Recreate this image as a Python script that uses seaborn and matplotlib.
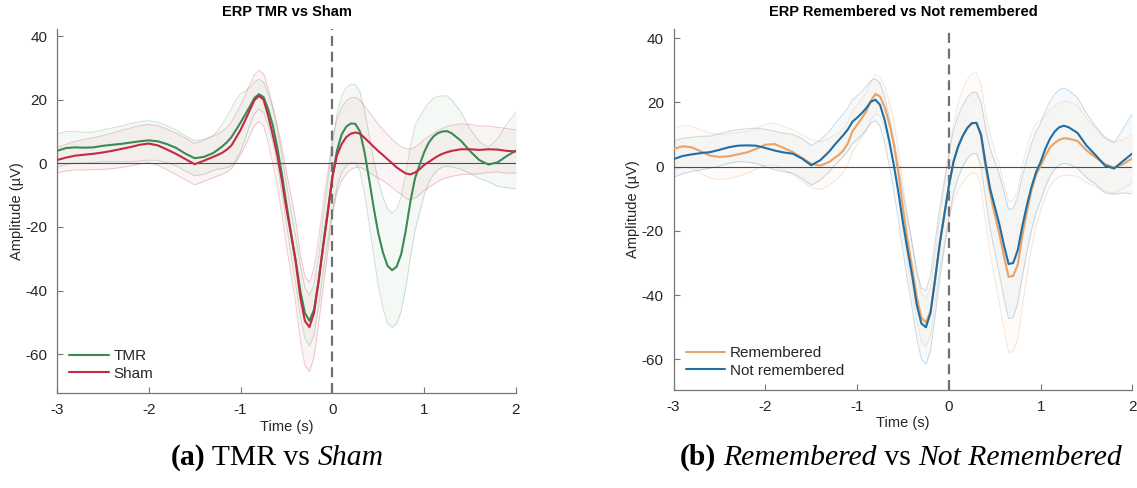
import numpy as np
import pandas as pd
import matplotlib
matplotlib.use("Agg")
import matplotlib.pyplot as plt
import seaborn as sns

# ---------------- data ----------------
time = [-3.0, -2.9, -2.8, -2.7, -2.6, -2.5, -2.4, -2.3, -2.2, -2.1, -2.0, -1.9, -1.8, -1.7, -1.6, -1.5, -1.4, -1.3,
        -1.25, -1.2, -1.15, -1.1, -1.05, -1.0, -0.95, -0.9, -0.85, -0.8, -0.75, -0.7, -0.65, -0.6, -0.55,
        -0.5, -0.45, -0.4, -0.35, -0.3, -0.25, -0.2, -0.15, -0.1, -0.05, 0.0,
        0.05, 0.1, 0.15, 0.2, 0.25, 0.3, 0.35, 0.4, 0.45, 0.5, 0.55, 0.6,
        0.65, 0.7, 0.75, 0.8, 0.85, 0.9, 0.95, 1.0, 1.05, 1.1, 1.15, 1.2, 1.25,
        1.3, 1.4, 1.5, 1.6, 1.7, 1.8, 1.9, 2.0]

tmr_mean = [3.9, 4.8, 5.0, 4.9, 5.0, 5.5, 5.8, 6.1, 6.5, 6.9, 7.2, 6.9, 6.0, 4.8, 3.0, 1.6, 2.0, 3.2,
            4.2, 5.3, 6.6, 8.2, 10.5, 12.8, 15.3, 17.8, 20.5, 21.7, 20.8, 17.0, 12.0, 5.0, -3.5,
            -13, -22, -30.5, -40, -47, -49.5, -46, -37, -25.5, -15, -4.5,
            4.0, 9.0, 11.5, 12.5, 12.4, 10.0, 3.5, -5.0, -14, -22, -28, -32.2,
            -33.6, -32.5, -28.5, -21, -12, -4.7, -0.5, 3.5, 6.5, 8.4, 9.5, 10.0, 10.1,
            9.4, 7.1, 3.8, 1.0, -0.4, 0.3, 2.3, 4.0]
tmr_err = [5.2, 5.2, 5.0, 4.8, 4.8, 5.0, 5.3, 5.6, 6.0, 6.2, 6.2, 6.0, 5.8, 5.6, 5.5, 5.5, 5.5, 5.5,
           6.0, 7.0, 8.0, 9.0, 9.5, 9.0, 7.5, 6.0, 5.0, 4.7, 4.8, 5.0, 5.3, 5.6, 6.0,
           6.5, 7.0, 7.5, 8.0, 8.0, 8.0, 8.0, 8.0, 8.5, 9.5, 10.5,
           11.5, 12.0, 12.3, 12.3, 12.3, 12.5, 13.0, 14.0, 15.0, 16.5, 17.5, 18.0,
           18.0, 18.0, 18.0, 18.0, 17.5, 16.5, 15.0, 13.5, 12.5, 12.0, 11.5, 11.2, 11.0,
           10.5, 9.0, 7.0, 5.8, 5.4, 7.5, 10.0, 12.0]

sham_mean = [1.0, 1.8, 2.4, 2.7, 3.0, 3.4, 3.9, 4.5, 5.1, 5.8, 6.2, 5.6, 4.3, 2.9, 1.3, -0.3, 0.8, 2.0,
             2.6, 3.3, 4.3, 5.6, 8.0, 10.5, 13.5, 16.7, 19.8, 21.2, 20.0, 15.0, 9.0, 2.5, -5.5,
             -14.5, -22.5, -31, -42, -49.5, -51.5, -47, -37, -26, -15.5, -4.2,
             2.5, 6.0, 8.2, 9.3, 9.7, 9.3, 8.0, 6.6, 5.2, 3.8, 2.6, 1.3,
             0.0, -1.3, -2.3, -3.2, -3.5, -2.9, -1.9, -0.5, 0.4, 1.4, 2.3, 3.0, 3.5,
             3.9, 4.4, 4.4, 4.2, 4.4, 4.3, 3.9, 3.7]
sham_err = [4.0, 4.2, 4.5, 4.8, 5.0, 5.3, 5.6, 5.8, 6.0, 6.0, 6.0, 6.2, 6.4, 6.5, 6.5, 6.5, 6.5, 6.5,
            6.6, 6.8, 7.0, 7.3, 7.6, 7.8, 8.0, 8.0, 8.0, 8.0, 8.2, 8.5, 9.0, 9.5, 10.5,
            11.5, 12.5, 13.0, 13.5, 14.0, 14.0, 14.0, 13.5, 13.0, 12.5, 12.0,
            11.5, 11.5, 11.5, 11.3, 11.0, 10.5, 10.0, 9.5, 9.0, 8.5, 8.0, 7.8,
            7.6, 7.5, 7.5, 7.8, 8.0, 8.0, 8.0, 8.0, 8.0, 8.0, 8.0, 8.0, 8.0,
            8.0, 8.0, 7.8, 7.5, 7.3, 7.0, 7.0, 6.8]

rem_mean = [5.5, 6.3, 6.0, 4.7, 3.4, 3.0, 3.2, 3.8, 4.4, 5.5, 6.8, 7.0, 5.8, 4.5, 2.7, 0.9, 0.3, 1.5,
            2.6, 3.6, 5.0, 7.3, 11.0, 13.0, 15.0, 17.2, 20.5, 22.6, 21.8, 18.5, 13.5, 7.0, -2.0,
            -13, -23, -31.5, -40.5, -47, -48.5, -45, -35, -24, -15, -6,
            1.5, 6.2, 9.5, 12.0, 13.5, 13.6, 9.5, -0.5, -8.5, -15, -21, -28,
            -34.3, -34.0, -30.5, -21.5, -14, -7.3, -2.5, 0.3, 3.3, 5.9, 7.3, 8.3, 8.8,
            8.7, 8.0, 5.0, 2.8, 0.8, -0.3, 0.8, 2.6]
rem_err = [6.5, 6.5, 6.5, 6.8, 7.0, 7.0, 7.0, 6.8, 6.5, 6.3, 6.3, 6.5, 6.8, 7.0, 7.2, 7.5, 7.5, 7.3,
           7.2, 7.0, 6.8, 6.6, 6.4, 6.2, 6.0, 6.0, 6.0, 6.0, 6.2, 6.5, 6.8, 7.0, 7.2,
           7.3, 7.4, 7.5, 7.5, 7.5, 7.5, 7.5, 7.6, 8.0, 9.0, 10.5,
           12.0, 13.5, 14.5, 15.0, 15.5, 15.5, 16.0, 17.0, 18.5, 20.0, 21.5, 22.5,
           23.5, 23.5, 23.0, 22.0, 20.0, 18.0, 16.0, 14.0, 12.5, 12.0, 11.5, 11.5, 11.5,
           11.5, 11.0, 10.0, 9.0, 8.5, 8.0, 7.5, 7.5]

notrem_mean = [2.3, 3.3, 3.8, 4.2, 4.5, 5.2, 6.0, 6.5, 6.6, 6.5, 5.8, 5.0, 4.4, 4.0, 2.5, 0.4, 2.0, 4.8,
               6.6, 8.2, 9.8, 11.6, 14.0, 15.2, 16.6, 18.2, 20.2, 20.8, 19.2, 14.5, 8.0, 0.5, -8,
               -17.5, -26, -34, -43, -48.8, -50, -45.5, -35, -24, -15, -6,
               1.5, 6.2, 9.5, 12.0, 13.5, 13.6, 10.0, 1.0, -7, -12.5, -18, -24.5,
               -30.3, -30.0, -26, -18.5, -12, -6.3, -1.7, 1.5, 5.5, 8.6, 10.8, 12.2, 12.7,
               12.3, 10.5, 6.5, 3.5, 0.3, -0.6, 1.8, 4.1]
notrem_err = [5.7, 5.5, 5.3, 5.2, 5.0, 5.0, 5.0, 5.0, 5.2, 5.5, 5.8, 6.0, 6.0, 6.0, 6.2, 6.2, 6.2, 6.3,
              6.4, 6.5, 6.6, 6.7, 6.8, 6.8, 6.8, 6.7, 6.6, 6.5, 6.7, 7.0, 7.5, 8.0, 8.5,
              9.0, 9.5, 10.0, 10.5, 11.0, 11.5, 11.7, 11.5, 11.0, 10.5, 10.0,
              9.8, 9.6, 9.5, 9.5, 9.5, 9.5, 10.0, 11.0, 12.5, 14.0, 15.5, 16.5,
              17.0, 17.0, 16.5, 15.5, 14.5, 13.5, 12.5, 12.0, 11.8, 11.7, 11.7, 11.7, 11.7,
              11.5, 11.0, 10.0, 9.0, 8.5, 8.0, 10.0, 12.5]

panel_titles = ["ERP TMR vs Sham", "ERP Remembered vs Not remembered"]
panel_a_labels = ["TMR", "Sham"]
panel_b_labels = ["Remembered", "Not remembered"]
x_ticks = [-3, -2, -1, 0, 1, 2]
y_ticks = [-60, -40, -20, 0, 20, 40]

# ---------------- style ----------------
sns.set_theme(style="white")
plt.rcParams["font.family"] = ["Liberation Sans", "DejaVu Sans"]

colors_a = {"TMR": "#3a8a52", "Sham": "#c42a41"}
colors_b = {"Remembered": "#eba262", "Not remembered": "#1f6fa6"}

fig = plt.figure(figsize=(11.37, 4.88), dpi=100)
ax_a = fig.add_axes([57 / 1137, 1 - 393 / 488, 459 / 1137, (393 - 29) / 488])
ax_b = fig.add_axes([673.5 / 1137, 1 - 390 / 488, 459 / 1137, (390 - 29) / 488])


def draw_panel(ax, labels, means, errs, colors, title, ylim, fill_alpha):
    t = np.array(time)
    frames = []
    for lab, m in zip(labels, means):
        frames.append(pd.DataFrame({"time": t, "amp": m, "cond": lab}))
    df = pd.concat(frames, ignore_index=True)
    # bands
    for lab, m, e in zip(labels, means, errs):
        m = np.array(m)
        e = np.array(e)
        c = colors[lab]
        ax.fill_between(t, m - e, m + e, color=c, alpha=fill_alpha, lw=0, zorder=1)
        ax.plot(t, m - e, color=c, alpha=0.25, lw=0.7, zorder=2)
        ax.plot(t, m + e, color=c, alpha=0.25, lw=0.7, zorder=2)
    ax.axhline(0, color="#4d4d4d", lw=0.8, zorder=3)
    ax.axvline(0, color="#707070", lw=1.6, ls=(0, (4.5, 2.6)), zorder=3)
    sns.lineplot(data=df, x="time", y="amp", hue="cond", hue_order=labels,
                 palette=colors, estimator=None, sort=False, ax=ax,
                 linewidth=1.5, legend=False, zorder=4)
    ax.set_xlim(-3, 2)
    ax.set_ylim(*ylim)
    ax.set_xticks(x_ticks)
    ax.set_xticklabels([str(v) for v in x_ticks])
    ax.set_yticks(y_ticks)
    ax.set_yticklabels([str(v) for v in y_ticks])
    for s in ["top", "right"]:
        ax.spines[s].set_visible(False)
    for s in ["left", "bottom"]:
        ax.spines[s].set_color("#777777")
        ax.spines[s].set_linewidth(0.9)
    ax.tick_params(axis="both", direction="in", length=4, width=0.8,
                   color="#777777", labelsize=11, labelcolor="#262626",
                   bottom=True, left=True, pad=7)
    ax.set_xlabel("Time (s)", fontsize=10.5, color="#262626", labelpad=2)
    ax.set_ylabel("Amplitude (µV)", fontsize=10.5, color="#262626", labelpad=1)
    ax.set_title(title, fontsize=10.5, fontweight="bold", color="#000000", pad=9)
    handles = [plt.Line2D([], [], color=colors[l], lw=1.5) for l in labels]
    ax.legend(handles, labels, loc="lower left", frameon=False, fontsize=11,
              handlelength=2.6, handletextpad=0.3, labelspacing=0.25,
              borderaxespad=0.4, bbox_to_anchor=(0.0, 0.0))


draw_panel(ax_a, panel_a_labels, [tmr_mean, sham_mean], [tmr_err, sham_err],
           colors_a, panel_titles[0], (-72.2, 42.2), 0.05)
draw_panel(ax_b, panel_b_labels, [rem_mean, notrem_mean], [rem_err, notrem_err],
           colors_b, panel_titles[1], (-69.5, 42.8), 0.04)

# ---------------- captions with mixed styles ----------------
cap_size = 21.3
serif = ["Liberation Serif", "DejaVu Serif"]


def caption(xc_px, y_px, parts):
    fig.canvas.draw()
    r = fig.canvas.get_renderer()
    texts = []
    for s, w, st in parts:
        tx = fig.text(0, 1 - y_px / 488, s, fontsize=cap_size, fontweight=w,
                      fontstyle=st, family=serif, va="baseline", ha="left", color="black")
        texts.append(tx)
    widths = [tx.get_window_extent(r).width for tx in texts]
    total = sum(widths)
    x = xc_px - total / 2
    for tx, wdt in zip(texts, widths):
        tx.set_x(x / 1137)
        x += wdt


caption(277, 465, [("(a)", "bold", "normal"), (" TMR vs ", "normal", "normal"),
                   ("Sham", "normal", "italic")])
caption(901, 465, [("(b)", "bold", "normal"), (" ", "normal", "normal"),
                   ("Remembered", "normal", "italic"), (" vs ", "normal", "normal"),
                   ("Not Remembered", "normal", "italic")])

fig.savefig("out.png", dpi=100)
